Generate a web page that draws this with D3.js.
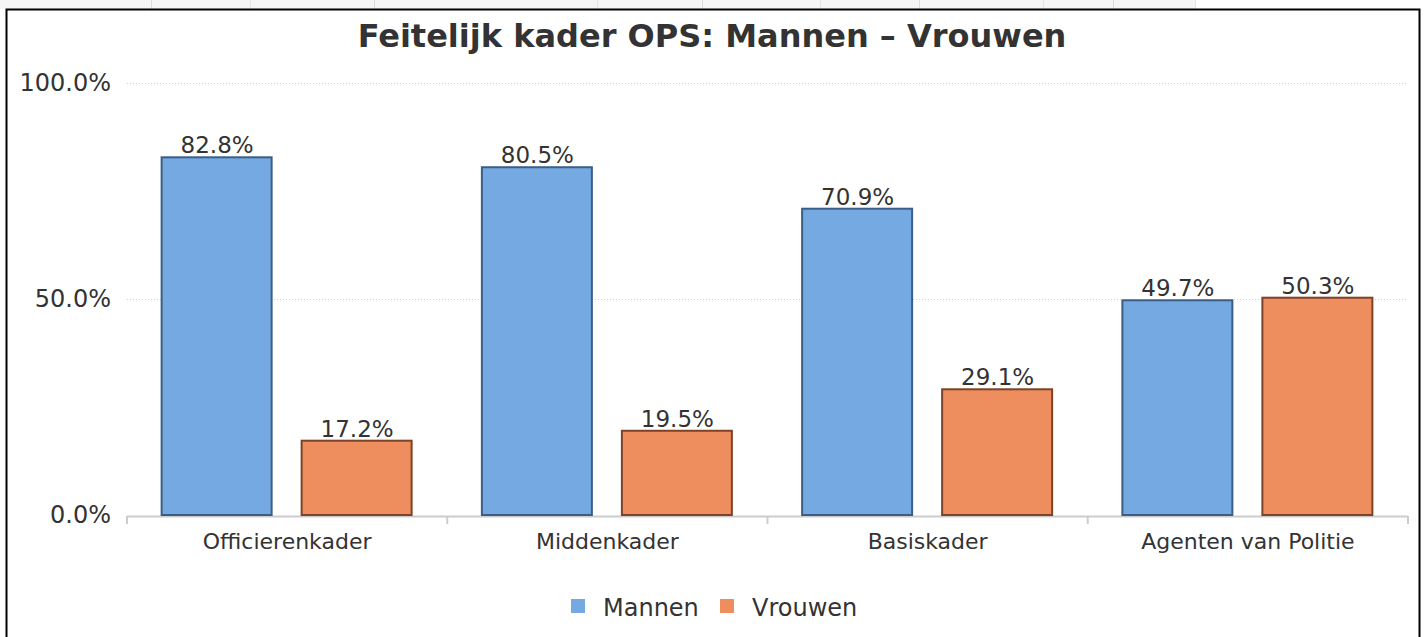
<!DOCTYPE html>
<html>
<head>
<meta charset="utf-8">
<script src="https://cdn.jsdelivr.net/npm/d3@7"></script>
<style>
  html, body { margin: 0; padding: 0; background: #fff; }
  svg { display: block; font-family: "DejaVu Sans", sans-serif; }
</style>
</head>
<body>
<svg id="chart" width="1426" height="637"></svg>
<script>
var categories = ["Officierenkader", "Middenkader", "Basiskader", "Agenten van Politie"];
var seriesNames = ["Mannen", "Vrouwen"];
var mannen = [82.8, 80.5, 70.9, 49.7];
var vrouwen = [17.2, 19.5, 29.1, 50.3];
var yTicks = [0, 50, 100];
var tabStops = [151, 250, 374, 597, 702, 820, 919, 1043, 1113, 1195];

var fills = ["#74a9e1", "#ee8d5d"], strokes = ["#3b5e86", "#7c4329"];
var svg = d3.select("#chart");

// page remnants: tab strip and frame
svg.append("rect").attr("x", 0).attr("y", 0).attr("width", 1195).attr("height", 9).attr("fill", "#f5f5f5");
svg.selectAll(".tabsep").data(tabStops).enter().append("line")
    .attr("x1", function (d) { return d + 0.5; }).attr("x2", function (d) { return d + 0.5; })
    .attr("y1", 0).attr("y2", 9).attr("stroke", function (d, i) { return i % 2 ? "#e4e4e4" : "#dcdcdc"; });
svg.append("path").attr("d", "M6.5,637V9.5H1419.5V637")
    .attr("fill", "none").attr("stroke", "#000").attr("stroke-width", 2);

var margin = {left: 127, right: 1408, top: 83, bottom: 515};
var x0 = d3.scaleBand().domain(categories).range([margin.left, margin.right]);
var y = d3.scaleLinear().domain([0, 100]).range([margin.bottom, margin.top]);

svg.append("text").attr("x", 712).attr("y", 47).attr("text-anchor", "middle")
    .style("font-size", "32px").style("font-weight", "bold").attr("fill", "#333")
    .text("Feitelijk kader OPS: Mannen – Vrouwen");

// grid
svg.selectAll(".grid").data(yTicks.filter(function (d) { return d > 0; })).enter().append("line")
    .attr("x1", margin.left).attr("x2", margin.right)
    .attr("y1", function (d) { return Math.round(y(d)) + 0.5; })
    .attr("y2", function (d) { return Math.round(y(d)) + 0.5; })
    .attr("stroke", "#d0d0d0").attr("stroke-dasharray", "1,2");

svg.selectAll(".ytick").data(yTicks).enter().append("text")
    .attr("x", 111).attr("y", function (d) { return y(d) + 8; })
    .attr("text-anchor", "end").style("font-size", "24px").attr("fill", "#333")
    .text(function (d) { return d3.format(".1f")(d) + "%"; });

// x axis
var xAxis = svg.append("g").attr("transform", "translate(0," + (margin.bottom + 1) + ")");
xAxis.append("path").attr("d", "M" + margin.left + ",0.5H" + margin.right)
    .attr("stroke", "#ccc").attr("stroke-width", 2).attr("fill", "none");
var bounds = categories.map(function (c) { return x0(c); }).concat([margin.right]);
xAxis.selectAll(".xt").data(bounds).enter().append("line")
    .attr("x1", function (d) { return d; }).attr("x2", function (d) { return d; })
    .attr("y1", 0).attr("y2", 8).attr("stroke", "#ccc").attr("stroke-width", 2);
xAxis.selectAll(".xl").data(categories).enter().append("text")
    .attr("x", function (d) { return x0(d) + x0.bandwidth() / 2; }).attr("y", 33)
    .attr("text-anchor", "middle").style("font-size", "22px").attr("fill", "#333")
    .text(function (d) { return d; });

// bars
var barW = 110, offsets = [-70, 70];
var data = [mannen, vrouwen];
data.forEach(function (vals, s) {
    var g = svg.append("g");
    g.selectAll("rect").data(vals).enter().append("rect")
        .attr("x", function (d, i) { return x0(categories[i]) + x0.bandwidth() / 2 + offsets[s] - barW / 2 - 0.5; })
        .attr("y", function (d) { return y(d); })
        .attr("width", barW)
        .attr("height", function (d) { return margin.bottom - y(d); })
        .attr("fill", fills[s]).attr("stroke", strokes[s]).attr("stroke-width", 2);
    g.selectAll("text").data(vals).enter().append("text")
        .attr("x", function (d, i) { return x0(categories[i]) + x0.bandwidth() / 2 + offsets[s]; })
        .attr("y", function (d) { return y(d) - 4; })
        .attr("text-anchor", "middle").style("font-size", "23px").attr("fill", "#333")
        .text(function (d) { return d3.format(".1f")(d) + "%"; });
});

// legend
var legend = svg.append("g");
var legX = [571, 720];
seriesNames.forEach(function (n, i) {
    legend.append("rect").attr("x", legX[i]).attr("y", 599).attr("width", 14).attr("height", 14).attr("fill", fills[i]);
    legend.append("text").attr("x", legX[i] + 32).attr("y", 616).style("font-size", "24px").attr("fill", "#333").text(n);
});
</script>
</body>
</html>
